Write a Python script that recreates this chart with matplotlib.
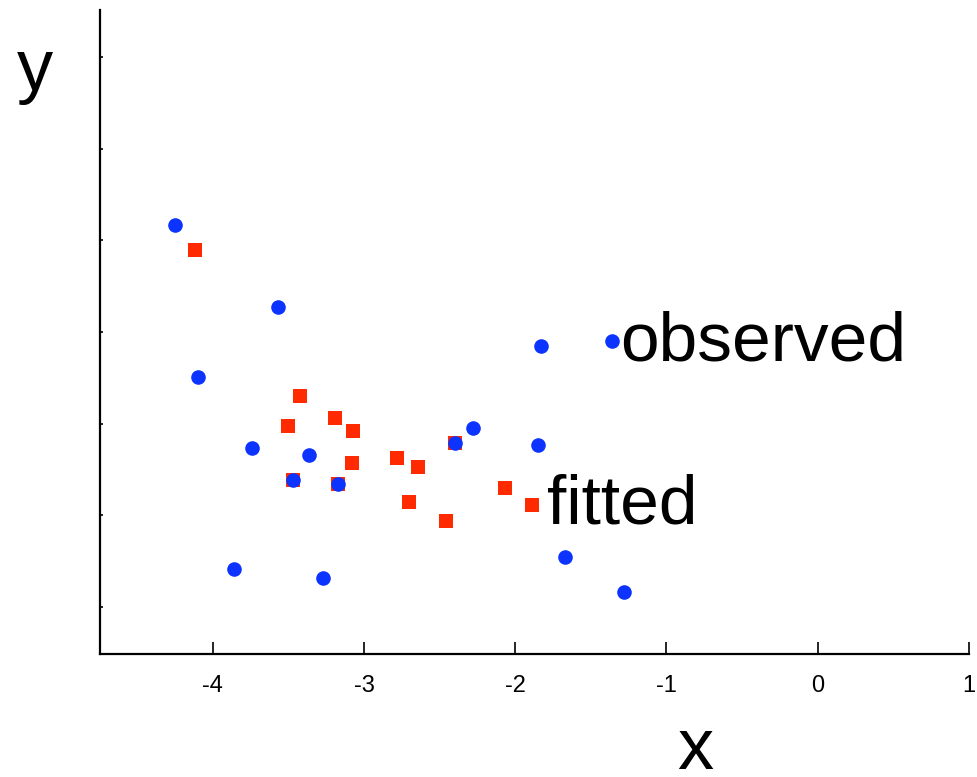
import matplotlib.pyplot as plt
import numpy as np

plt.rcParams['font.family'] = ['Liberation Sans', 'DejaVu Sans']

# observed points (blue circles)
obs_x = [-4.25, -3.57, -4.10, -3.74, -3.36, -3.47, -3.17, -3.86,
         -3.27, -2.40, -2.28, -1.85, -1.83, -1.36, -1.67, -1.28]
obs_y = [5.17, 4.27, 3.51, 2.74, 2.66, 2.39, 2.34, 1.42,
         1.32, 2.79, 2.95, 2.77, 3.85, 3.90, 1.55, 1.17]

# fitted points (red squares)
fit_x = [-4.12, -3.42, -3.50, -3.19, -3.07, -3.08, -2.78, -2.64,
         -3.47, -3.17, -2.40, -2.70, -2.46, -2.07, -1.89]
fit_y = [4.89, 3.30, 2.98, 3.06, 2.92, 2.57, 2.63, 2.53,
         2.39, 2.34, 2.79, 2.15, 1.94, 2.30, 2.11]

x_ticks = [-4, -3, -2, -1, 0, 1]
y_ticks = [1, 2, 3, 4, 5, 6, 7]


def main():
    fig = plt.figure(figsize=(9.77, 7.77), dpi=100)
    ax = fig.add_axes([100 / 977, 1 - 654 / 777, 869 / 977, 644 / 777])

    ax.scatter(fit_x, fit_y, marker='s', s=9.5 ** 2, color='#ff2a00',
               linewidths=0, zorder=3)
    ax.scatter(obs_x, obs_y, marker='o', s=10.5 ** 2, color='#0d33ff',
               linewidths=0, zorder=4)

    ax.annotate('observed', xy=(obs_x[13], obs_y[13]), xytext=(6, -14),
                textcoords='offset points', ha='left', va='baseline',
                fontsize=50)
    ax.annotate('fitted', xy=(fit_x[14], fit_y[14]), xytext=(11, -13),
                textcoords='offset points', ha='left', va='baseline',
                fontsize=50)

    ax.set_xlim(-4.745, 1.0)
    ax.set_ylim(0.49, 7.51)
    ax.set_xticks(x_ticks)
    ax.set_xticklabels([str(t) for t in x_ticks])
    ax.set_yticks(y_ticks)
    ax.set_yticklabels([])

    for side in ['top', 'right']:
        ax.spines[side].set_visible(False)
    for side in ['left', 'bottom']:
        ax.spines[side].set_linewidth(1.6)

    ax.tick_params(axis='x', direction='in', length=8.5, width=1.2,
                   pad=15, labelsize=17)
    ax.tick_params(axis='y', direction='in', length=2, width=1.2)

    fig.text(35 / 977, 1 - 90 / 777, 'y', ha='center', va='baseline',
             fontsize=52)
    fig.text(695 / 977, 1 - 769 / 777, 'x', ha='center', va='baseline',
             fontsize=52)

    fig.savefig('out.png', dpi=100)
    plt.close(fig)


if __name__ == '__main__':
    main()
